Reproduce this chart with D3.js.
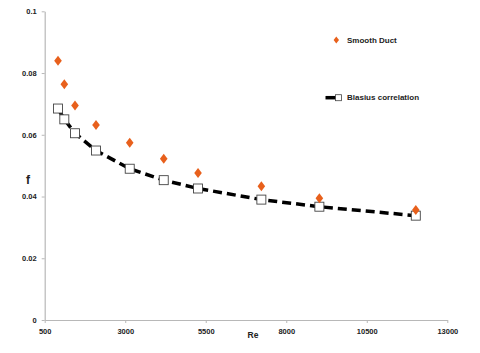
<!DOCTYPE html>
<html>
<head>
<meta charset="utf-8">
<script src="https://cdn.jsdelivr.net/npm/d3@7"></script>
<style>
  body { margin: 0; background: #fff; }
  text { font-family: "Liberation Sans Narrow", "Liberation Sans", Arial, sans-serif; }
</style>
</head>
<body>
<svg id="chart"></svg>
<script>
// values
var reynolds = [913, 1109, 1441, 2093, 3140, 4196, 5261, 7227, 9028, 12022];
var smoothDuct = [0.0840, 0.0764, 0.0695, 0.0632, 0.0574, 0.0522, 0.0476, 0.0433, 0.0394, 0.0356];
var blasius = [0.0685, 0.0650, 0.0605, 0.0549, 0.0490, 0.0453, 0.0426, 0.0390, 0.0367, 0.0338];
var xTicks = [500, 3000, 5500, 8000, 10500, 13000];
var yTicks = [0, 0.02, 0.04, 0.06, 0.08, 0.1];

var width = 480
var height = 353

var svg = d3.select('#chart')
            .attr("width", width)
            .attr("height", height);

var x = d3.scaleLinear().domain([500, 13000]).range([44.7, 447.3]);
var y = d3.scaleLinear().domain([0, 0.1]).range([320, 11.3]);

// axes
var xAxis = svg.append("g")
    .attr("transform", "translate(0,320)")
    .call(d3.axisBottom(x).tickValues(xTicks).tickSize(3).tickSizeOuter(0).tickFormat(d3.format("d")));
var yAxis = svg.append("g")
    .attr("transform", "translate(44.7,0)")
    .call(d3.axisLeft(y).tickValues(yTicks).tickSize(3).tickSizeOuter(0).tickFormat(d => d == 0 ? "0" : d));

[xAxis, yAxis].forEach(function(a){
  a.select(".domain").attr("stroke", "#b8b8b8").attr("stroke-width", 1.2);
  a.selectAll(".tick line").attr("stroke", "#b8b8b8");
  a.selectAll(".tick text")
    .attr("fill", "#222")
    .attr("font-size", 7.5)
    .attr("font-weight", "bold")
    .attr("font-family", "Liberation Sans Narrow, Liberation Sans, Arial");
});
xAxis.selectAll(".tick text").attr("dy", "1.1em");
yAxis.selectAll(".tick text").attr("dx", "-2");

// axis titles
svg.append("text")
    .attr("x", 28).attr("y", 184)
    .attr("text-anchor", "middle")
    .attr("font-size", 12).attr("font-weight", "bold")
    .attr("fill", "#222")
    .text("f");
svg.append("text")
    .attr("x", 253).attr("y", 338)
    .attr("text-anchor", "middle")
    .attr("font-size", 8.5).attr("font-weight", "bold")
    .attr("fill", "#222")
    .text("Re");

// Blasius dashed line
var line = d3.line()
    .x((d, i) => x(reynolds[i]))
    .y(d => y(d));

svg.append("path")
    .datum(blasius)
    .attr("d", line)
    .attr("fill", "none")
    .attr("stroke", "black")
    .attr("stroke-width", 3.5)
    .attr("stroke-dasharray", "9,5");

svg.append("g")
    .selectAll("rect")
    .data(blasius)
    .join("rect")
    .attr("x", (d, i) => x(reynolds[i]) - 4.5)
    .attr("y", d => y(d) - 4.5)
    .attr("width", 9)
    .attr("height", 9)
    .attr("fill", "white")
    .attr("stroke", "#444")
    .attr("stroke-width", 0.9);

// smooth duct diamonds
var diamond = "M0,-5 L3.8,0 L0,5 L-3.8,0 Z";
svg.append("g")
    .selectAll("path")
    .data(smoothDuct)
    .join("path")
    .attr("d", diamond)
    .attr("transform", (d, i) => "translate(" + x(reynolds[i]) + "," + y(d) + ")")
    .attr("fill", "#e8601c");

// legend
svg.append("path")
    .attr("d", "M0,-3.5 L2.7,0 L0,3.5 L-2.7,0 Z")
    .attr("transform", "translate(336.3,40)")
    .attr("fill", "#e8601c");
svg.append("text")
    .attr("x", 347).attr("y", 42.7)
    .attr("font-size", 8).attr("font-weight", "bold")
    .attr("fill", "#222")
    .text("Smooth Duct");

svg.append("line")
    .attr("x1", 325.5).attr("x2", 336)
    .attr("y1", 97.7).attr("y2", 97.7)
    .attr("stroke", "black").attr("stroke-width", 3.5);
svg.append("rect")
    .attr("x", 335.5).attr("y", 94.7)
    .attr("width", 6).attr("height", 6)
    .attr("fill", "white").attr("stroke", "#444").attr("stroke-width", 0.8);
svg.append("text")
    .attr("x", 347).attr("y", 100.4)
    .attr("font-size", 8).attr("font-weight", "bold")
    .attr("fill", "#222")
    .text("Blasius correlation");
</script>
</body>
</html>
